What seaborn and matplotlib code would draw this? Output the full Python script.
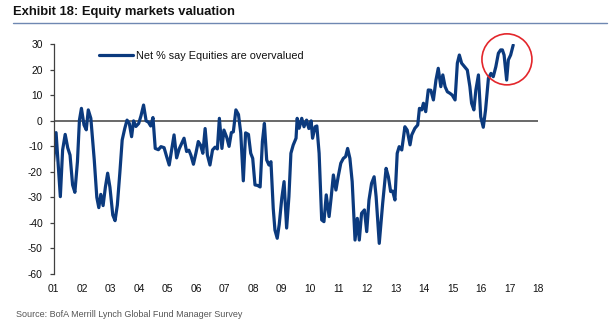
import matplotlib
matplotlib.use("Agg")
import matplotlib.pyplot as plt
import seaborn as sns
import pandas as pd
from matplotlib.patches import Ellipse
from matplotlib.lines import Line2D

# ---- data ----
years = [2001.00, 2001.09, 2001.24, 2001.32, 2001.41, 2001.50, 2001.58, 2001.67, 2001.75, 2001.84,
         2001.91, 2001.98, 2002.07, 2002.15, 2002.22, 2002.31, 2002.43, 2002.52, 2002.59, 2002.66,
         2002.74, 2002.82, 2002.90, 2002.98, 2003.08, 2003.16, 2003.24, 2003.33, 2003.41, 2003.50,
         2003.58, 2003.66, 2003.74, 2003.81, 2003.89, 2003.99, 2004.07, 2004.16, 2004.25, 2004.33,
         2004.41, 2004.49, 2004.57, 2004.68, 2004.77, 2004.88, 2004.97, 2005.06, 2005.15, 2005.23,
         2005.32, 2005.41, 2005.50, 2005.58, 2005.67, 2005.75, 2005.82, 2005.91, 2006.00, 2006.08,
         2006.16, 2006.24, 2006.32, 2006.40, 2006.49, 2006.58, 2006.67, 2006.75, 2006.82, 2006.91,
         2006.98, 2007.08, 2007.16, 2007.24, 2007.31, 2007.40, 2007.49, 2007.57, 2007.66, 2007.74,
         2007.84, 2007.92, 2007.99, 2008.07, 2008.16, 2008.25, 2008.33, 2008.40, 2008.48, 2008.56,
         2008.63, 2008.71, 2008.77, 2008.85, 2008.92, 2009.01, 2009.09, 2009.18, 2009.26, 2009.33,
         2009.41, 2009.51, 2009.55, 2009.62, 2009.71, 2009.79, 2009.88, 2009.96, 2010.04, 2010.09,
         2010.18, 2010.24, 2010.32, 2010.41, 2010.49, 2010.57, 2010.67, 2010.74, 2010.82, 2010.91,
         2010.99, 2011.08, 2011.17, 2011.25, 2011.32, 2011.40, 2011.48, 2011.58, 2011.66, 2011.73,
         2011.81, 2011.91, 2011.99, 2012.07, 2012.16, 2012.25, 2012.32, 2012.43, 2012.55, 2012.67,
         2012.75, 2012.83, 2012.90, 2012.98, 2013.06, 2013.13, 2013.22, 2013.33, 2013.41, 2013.51,
         2013.57, 2013.68, 2013.78, 2013.84, 2013.92, 2013.98, 2014.06, 2014.15, 2014.24, 2014.33,
         2014.42, 2014.50, 2014.59, 2014.66, 2014.74, 2014.82, 2014.91, 2014.99, 2015.09, 2015.17,
         2015.24, 2015.32, 2015.44, 2015.52, 2015.61, 2015.67, 2015.75, 2015.82, 2015.91, 2015.99,
         2016.08, 2016.16, 2016.26, 2016.35, 2016.43, 2016.52, 2016.61, 2016.69, 2016.75, 2016.81,
         2016.90, 2016.96, 2017.04, 2017.13]
net_overvalued = [-16, -4.6, -29.7, -11.4, -5.3, -10.6, -13.4, -25.1, -28, -16,
                  0.3, 4.9, -1.6, -3.5, 4.3, 1, -15.3, -30, -34, -28.8,
                  -33.2, -26, -20.5, -26, -36.9, -39.1, -33, -20, -7.5, -3,
                  0.3, -1, -6.2, 0, -2.2, -1, 2, 6.2, 0, -0.5,
                  -2, 1.3, -10.8, -11.3, -10.1, -10.5, -14, -17.3, -11, -5.5,
                  -14.5, -11, -8.8, -6.8, -12, -11.5, -13.4, -17, -12.5, -8.1,
                  -9.5, -12.7, -3, -13.4, -17.3, -11.4, -10.3, -11, 1, -10.8,
                  -3.6, -6.5, -10, -4.6, -4.3, 4.3, 2.5, -4.7, -23.5, -4.7,
                  -5.3, -12.7, -14.7, -25.1, -25.3, -25.9, -8.1, -1, -15.3, -17.3,
                  -16, -34.3, -42.8, -46, -40.6, -30.3, -23.8, -42, -29.7, -12.7,
                  -9.5, -6.8, 1, -2.9, 1, -2.3, 0.3, -3, 0, -6.8,
                  -2.3, -2, -12.7, -38.8, -39.5, -29, -37.5, -30.3, -21.2, -27.1,
                  -21.8, -16.6, -14.7, -14, -10.8, -14.7, -23.8, -46.7, -38.2, -46.7,
                  -36.2, -34.9, -43.4, -31, -24.5, -21.9, -29.7, -48, -32.3, -18.6,
                  -21.9, -27.7, -27.5, -31, -12.7, -10.1, -11.4, -2.3, -3.6, -9.4,
                  -5.5, -2.9, -1.6, 4.9, 4.3, 6.9, 3.6, 12.1, 12, 8.2,
                  16, 20.6, 13.4, 18, 13.4, 11.4, 10.8, 10.1, 8.2, 22.6,
                  25.8, 22.6, 21, 19.9, 13.4, 6.9, 4.3, 12.1, 18, 1.6,
                  -2.5, 4.3, 16.7, 18.6, 17.3, 21.2, 26.5, 27.8, 27.8, 25.8,
                  16, 23.9, 25.8, 29.7]
series_name = "Net % say Equities are overvalued"
x_ticks = list(range(2001, 2019))
x_tick_labels = ["01", "02", "03", "04", "05", "06", "07", "08", "09",
                 "10", "11", "12", "13", "14", "15", "16", "17", "18"]
y_ticks = [30, 20, 10, 0, -10, -20, -30, -40, -50, -60]
highlight_center = (2016.91, 24.1)   # red circle around latest readings

title = "Exhibit 18: Equity markets valuation"
source = "Source: BofA Merrill Lynch Global Fund Manager Survey"

# ---- style ----
sns.set_style("white")
plt.rcParams["font.family"] = ["Liberation Sans", "DejaVu Sans"]
plt.rcParams["axes.unicode_minus"] = False

df = pd.DataFrame({"year": years, "value": net_overvalued, "series": series_name})

W, H = 612, 334
fig = plt.figure(figsize=(W / 100, H / 100), dpi=100)
ax = fig.add_axes([53.5 / W, (H - 274) / H, 484.5 / W, 229.7 / H])

navy = "#0B3A7E"
sns.lineplot(data=df, x="year", y="value", hue="series", palette=[navy],
             linewidth=2.3, ax=ax, legend=True, estimator=None, sort=False)

ax.axhline(0, color="#404040", linewidth=1.1, zorder=1)

ax.set_xlim(2001, 2018)
ax.set_ylim(-60, 30)
ax.set_xticks(x_ticks)
ax.set_xticklabels(x_tick_labels)
ax.set_yticks(y_ticks)
ax.set_xlabel("")
ax.set_ylabel("")

for s in ["top", "right", "bottom"]:
    ax.spines[s].set_visible(False)
ax.spines["left"].set_color("#404040")
ax.spines["left"].set_linewidth(0.9)

ax.tick_params(axis="x", length=0, pad=7, labelsize=7.4, labelcolor="#111111")
ax.tick_params(axis="y", direction="out", length=3.2, width=0.9, color="#404040",
               pad=4.5, labelsize=7.4, labelcolor="#111111", left=True)

# legend
leg = ax.legend(loc="center left", bbox_to_anchor=(0.094, 0.949), frameon=False,
                handlelength=3.1, handletextpad=0.3, borderpad=0, borderaxespad=0,
                fontsize=7.8)
for t in leg.get_texts():
    t.set_color("#111111")

# red circle highlight
circ = Ellipse(highlight_center, width=50 / 28.5, height=51 / 2.552, fill=False,
               edgecolor="#E3262B", linewidth=1.2, zorder=5, clip_on=False)
ax.add_patch(circ)

# title and rule
fig.text(13 / W, 1 - 11.5 / H, title, fontsize=9.4, fontweight="bold",
         ha="left", va="center", color="#111111")
fig.add_artist(Line2D([13 / W, 607 / W], [1 - 23.3 / H, 1 - 23.3 / H],
                      color="#6F88B2", linewidth=1.0, transform=fig.transFigure))

fig.text(15.5 / W, 1 - 314.3 / H, source, fontsize=6.5,
         ha="left", va="center", color="#555555")

fig.savefig("out.png", dpi=100)
